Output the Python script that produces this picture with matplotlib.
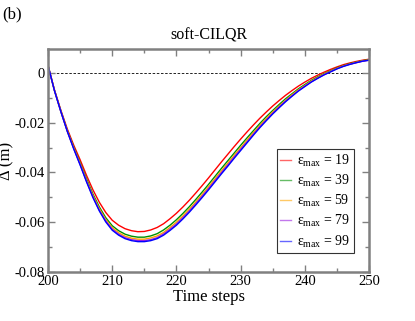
import matplotlib
matplotlib.use("Agg")
import matplotlib.pyplot as plt
from matplotlib.ticker import MultipleLocator
import numpy as np

plt.rcParams['font.family'] = ['Liberation Serif', 'DejaVu Serif']
plt.rcParams['mathtext.fontset'] = 'custom'
plt.rcParams['mathtext.rm'] = 'Liberation Serif'
plt.rcParams['mathtext.it'] = 'Liberation Serif:italic'

time_steps = list(range(200, 251))

delta_eps19 = [0.0030, -0.0068, -0.0150, -0.0225, -0.0290, -0.0349, -0.0412, -0.0470, -0.0520, -0.0561,
               -0.0592, -0.0612, -0.0626, -0.0634, -0.0638, -0.0637, -0.0631, -0.0621, -0.0606, -0.0586,
               -0.0564, -0.0539, -0.0512, -0.0483, -0.0453, -0.0422, -0.0390, -0.0358, -0.0327, -0.0296,
               -0.0266, -0.0237, -0.0209, -0.0182, -0.0157, -0.0133, -0.0111, -0.0090, -0.0071, -0.0053,
               -0.0037, -0.0022, -0.0009, 0.0003, 0.0014, 0.0024, 0.0033, 0.0040, 0.0046, 0.0051, 0.0055]
delta_eps39 = [0.0030, -0.0070, -0.0153, -0.0231, -0.0298, -0.0361, -0.0426, -0.0487, -0.0539, -0.0582,
               -0.0614, -0.0634, -0.0648, -0.0656, -0.0660, -0.0660, -0.0655, -0.0646, -0.0631, -0.0612,
               -0.0590, -0.0565, -0.0538, -0.0509, -0.0479, -0.0448, -0.0416, -0.0384, -0.0353, -0.0322,
               -0.0291, -0.0261, -0.0232, -0.0203, -0.0176, -0.0151, -0.0127, -0.0104, -0.0084, -0.0064,
               -0.0047, -0.0030, -0.0016, -0.0003, 0.0008, 0.0020, 0.0029, 0.0037, 0.0043, 0.0049, 0.0053]
delta_eps59 = [0.0030, -0.0070, -0.0155, -0.0233, -0.0301, -0.0365, -0.0432, -0.0493, -0.0546, -0.0590,
               -0.0622, -0.0642, -0.0656, -0.0664, -0.0668, -0.0668, -0.0663, -0.0655, -0.0641, -0.0621,
               -0.0600, -0.0575, -0.0548, -0.0519, -0.0489, -0.0458, -0.0426, -0.0394, -0.0363, -0.0331,
               -0.0301, -0.0270, -0.0240, -0.0211, -0.0183, -0.0157, -0.0133, -0.0110, -0.0088, -0.0068,
               -0.0051, -0.0033, -0.0019, -0.0005, 0.0006, 0.0018, 0.0028, 0.0035, 0.0042, 0.0048, 0.0052]
delta_eps79 = [0.0030, -0.0071, -0.0155, -0.0234, -0.0304, -0.0368, -0.0435, -0.0498, -0.0552, -0.0595,
               -0.0628, -0.0648, -0.0662, -0.0670, -0.0674, -0.0674, -0.0670, -0.0662, -0.0647, -0.0628,
               -0.0607, -0.0582, -0.0555, -0.0526, -0.0496, -0.0465, -0.0433, -0.0401, -0.0370, -0.0338,
               -0.0307, -0.0277, -0.0246, -0.0216, -0.0189, -0.0162, -0.0137, -0.0113, -0.0092, -0.0071,
               -0.0053, -0.0036, -0.0021, -0.0007, 0.0005, 0.0017, 0.0027, 0.0035, 0.0041, 0.0047, 0.0051]
delta_eps99 = [0.0030, -0.0071, -0.0156, -0.0235, -0.0305, -0.0370, -0.0438, -0.0501, -0.0555, -0.0599,
               -0.0632, -0.0652, -0.0666, -0.0674, -0.0678, -0.0678, -0.0674, -0.0666, -0.0652, -0.0633,
               -0.0612, -0.0587, -0.0560, -0.0531, -0.0501, -0.0470, -0.0438, -0.0406, -0.0375, -0.0343,
               -0.0312, -0.0281, -0.0250, -0.0220, -0.0192, -0.0165, -0.0140, -0.0116, -0.0094, -0.0073,
               -0.0055, -0.0037, -0.0022, -0.0008, 0.0004, 0.0016, 0.0026, 0.0034, 0.0041, 0.0047, 0.0051]

eps_max = [19, 39, 59, 79, 99]
series = [delta_eps19, delta_eps39, delta_eps59, delta_eps79, delta_eps99]
colors = ['#ff0000', '#009000', '#ffa500', '#9a1fe0', '#0000ff']

fig = plt.figure(figsize=(4.15, 3.21), dpi=100)
ax = fig.add_axes([0.1157, 0.1526, 0.7735, 0.6947])

ax.axhline(0, color='black', lw=0.6, ls=(0, (3, 2)), zorder=1)
for e, s, c in zip(eps_max, series, colors):
    ax.plot(time_steps, s, color=c, lw=1.0, label=r'ε$_{\mathrm{max}}$ = %d' % e, zorder=2)

ax.set_xlim(200, 250)
ax.set_ylim(-0.08, 0.0096)
ax.xaxis.set_major_locator(MultipleLocator(10))
ax.xaxis.set_minor_locator(MultipleLocator(5))
ax.yaxis.set_major_locator(MultipleLocator(0.02))
ax.yaxis.set_minor_locator(MultipleLocator(0.01))
ax.set_yticks([-0.08, -0.06, -0.04, -0.02, 0])
ax.set_yticklabels(['-0.08', '-0.06', '-0.04', '-0.02', '0'])
ax.tick_params(which='both', direction='in', top=True, right=True, color='#808080', width=1.0,
               labelsize=10.5, pad=2)
ax.tick_params(which='major', length=5)
ax.tick_params(which='minor', length=3)
for sp in ax.spines.values():
    sp.set_color('#808080')
    sp.set_linewidth(1.8)

ax.set_xlabel('Time steps', fontsize=12, labelpad=1)
ax.set_ylabel('Δ (m)', fontsize=12)
ax.yaxis.set_label_coords(-0.104, 0.5)
ax.set_title('soft-CILQR', fontsize=11.5, pad=7)
fig.text(0.005, 0.955, '(b)', fontsize=12, ha='left', va='center')

leg = ax.legend(loc='lower right', bbox_to_anchor=(0.952, 0.085), fontsize=10, frameon=True,
                fancybox=False, edgecolor='black', handlelength=0.8, handletextpad=0.4,
                labelspacing=0.3, borderpad=0.25, borderaxespad=0)
leg.get_frame().set_linewidth(0.8)
for lh in leg.get_lines():
    lh.set_alpha(0.6)

fig.savefig('out.png', dpi=100)
